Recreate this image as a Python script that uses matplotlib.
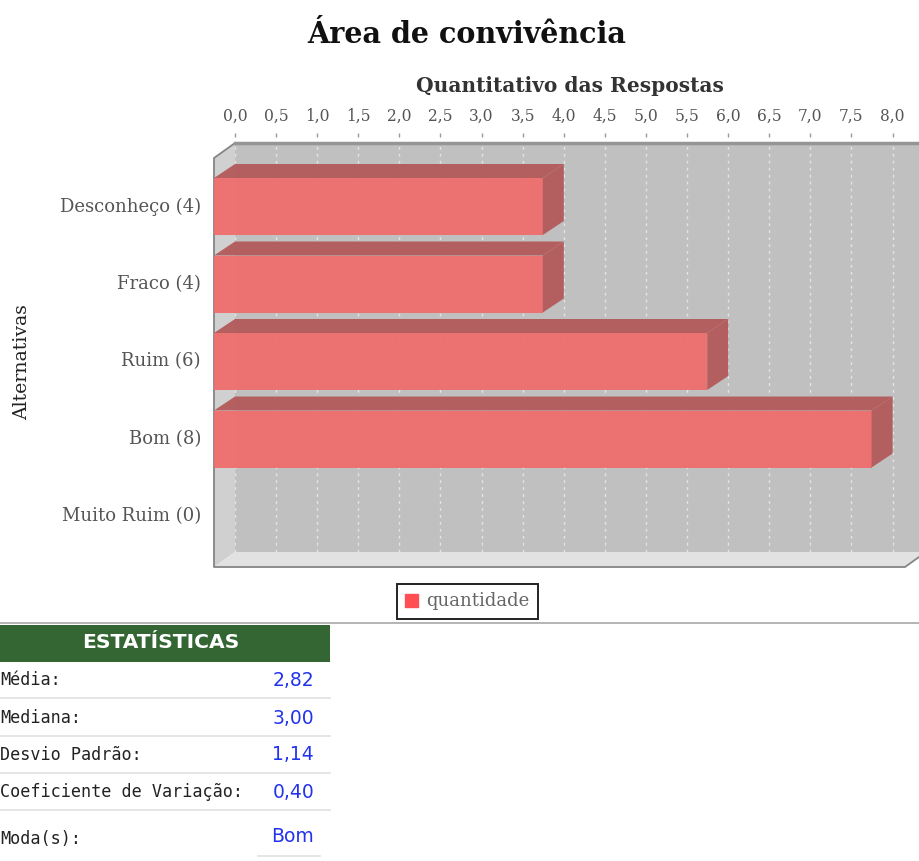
import matplotlib
matplotlib.use('Agg')
import matplotlib.pyplot as plt
from matplotlib.patches import Polygon, Patch, Rectangle
from matplotlib.transforms import ScaledTranslation

W, H = 919, 861

categories = ['Desconheço (4)', 'Fraco (4)', 'Ruim (6)', 'Bom (8)', 'Muito Ruim (0)']
quantidade = [4, 4, 6, 8, 0]
xticks = [0.0, 0.5, 1.0, 1.5, 2.0, 2.5, 3.0, 3.5, 4.0, 4.5, 5.0, 5.5, 6.0, 6.5, 7.0, 7.5, 8.0]
stat_names = ['Média:', 'Mediana:', 'Desvio Padrão:', 'Coeficiente de Variação:', 'Moda(s):']
stat_values = ['2,82', '3,00', '1,14', '0,40', 'Bom']

SERIF = 'DejaVu Serif'
PXX = 82.2  # pixels per unit on x
PXY = 77.5  # pixels per category
DX, DY = 21, 14  # 3d depth, pixels


def axes_px(x0, y0, x1, y1, **kw):
    # axes from pixel box, y counted from the top of the image
    return fig.add_axes([x0 / W, 1 - y1 / H, (x1 - x0) / W, (y1 - y0) / H], **kw)


fig = plt.figure(figsize=(W / 100, H / 100), dpi=100)

# page layer in pixels: plot walls, table
bg = axes_px(0, 0, W, H, zorder=0)
bg.set_xlim(0, W)
bg.set_ylim(H, 0)
bg.axis('off')
bg.add_patch(Polygon([(214, 158), (235, 143), (235, 552), (214, 567)], fc='#d0d0d0', ec='none'))
bg.add_patch(Polygon([(214, 567), (905, 567), (926, 552), (235, 552)], fc='#e2e2e2', ec='none'))
bg.plot([235, 214, 214, 905, 926], [143, 158, 567, 567, 552], color='#858585', lw=1.3)

bg.plot([0, W], [623, 623], color='#a8a8a8', lw=1.2)
bg.add_patch(Rectangle((0, 625), 330, 37, fc='#336633', ec='none'))
bg.text(161, 643, 'ESTATÍSTICAS', color='white', fontsize=14.6, fontweight='bold',
        family='DejaVu Sans', ha='center', va='center')
row_y = [680, 718, 755, 792, 839]
for name, val, y in zip(stat_names, stat_values, row_y):
    bg.text(0, y, name, color='#222222', fontsize=12.1, family='DejaVu Sans Mono', va='center')
    bg.text(314, y - (2 if val == 'Bom' else 0), val, color='#2233ee', fontsize=13.5,
            family='DejaVu Sans', va='center', ha='right')
for y in [698, 736, 773, 810]:
    bg.plot([0, 330], [y, y], color='#e0e0e0', lw=1.2)
bg.plot([258, 320], [856, 856], color='#e0e0e0', lw=1.2)

bg.text(467, 34.5, 'Área de convivência', color='#111111', fontsize=20.6, fontweight='bold',
        family=SERIF, ha='center', va='center')
bg.text(22, 362, 'Alternativas', color='#222222', fontsize=13.6, family=SERIF,
        rotation=90, ha='center', va='center')

# back wall, carries the value axis
back = axes_px(235, 143, 926, 552, zorder=1, facecolor='#c0c0c0')
back.set_xlim(0, (926 - 235) / PXX)
back.set_ylim(0, 1)
back.spines['top'].set_position(('outward', 4.3))  # has to come before the tick setup
back.xaxis.tick_top()
back.xaxis.set_label_position('top')
back.set_xticks(xticks)
back.set_xticklabels([('%.1f' % v).replace('.', ',') for v in xticks],
                     family=SERIF, fontsize=11.2, color='#555555')
back.tick_params(axis='x', length=2.9, width=1, color='#999999', pad=6)
back.set_yticks([])
back.set_xlabel('Quantitativo das Respostas', family=SERIF, fontsize=14.5, fontweight='bold',
                color='#333333')
back.xaxis.set_label_coords((570 - 235) / (926 - 235), 1 + (143 - 92) / (552 - 143), transform=back.transAxes)
back.grid(axis='x', color='#e4e4e4', lw=1, linestyle=(0, (2, 3)))
back.set_axisbelow(True)
for s in back.spines.values():
    s.set_visible(False)
back.axhline(1, color='#959595', lw=2.5, clip_on=False)

# front plane with the bars and the category axis
y0 = 206.5
front = axes_px(214, 158, W, 567, zorder=2, facecolor='none')
front.set_xlim(0, (W - 214) / PXX)
front.set_ylim((567 - y0) / PXY, (158 - y0) / PXY)
front.set_xticks([])
front.set_yticks(range(len(categories)))
front.set_yticklabels(categories, family=SERIF, fontsize=13, color='#555555')
front.tick_params(axis='y', length=0, pad=9.4)
shift_up = ScaledTranslation(0, 2 / 100, fig.dpi_scale_trans)
for lab in front.get_yticklabels():
    lab.set_transform(lab.get_transform() + shift_up)
for s in front.spines.values():
    s.set_visible(False)

bar_h = 57 / PXY
dx, dy = DX / PXX, DY / PXY
front.barh(range(len(categories)), quantidade, height=bar_h, color='#f06c6c', alpha=0.93, linewidth=0)
for i, v in enumerate(quantidade):
    if v == 0:
        continue
    top, bot = i - bar_h / 2, i + bar_h / 2
    front.add_patch(Polygon([(0, top), (v, top), (v + dx, top - dy), (dx, top - dy)],
                            fc='#b35c5c', ec='none', alpha=0.97))
    front.add_patch(Polygon([(v, top), (v + dx, top - dy), (v + dx, bot - dy), (v, bot)],
                            fc='#b35c5c', ec='none', alpha=0.97))

leg = fig.legend(handles=[Patch(color='#ff4f55', label='quantidade')],
                 loc='center', bbox_to_anchor=(467.5 / W, 1 - 601.5 / H), frameon=True,
                 fancybox=False, edgecolor='#222222', framealpha=1,
                 prop={'family': SERIF, 'size': 13}, labelcolor='#666666',
                 handlelength=0.72, handleheight=0.72, handletextpad=0.45,
                 borderpad=0.45, borderaxespad=0)
leg.get_frame().set_linewidth(1.4)
leg.set_zorder(5)

fig.savefig('out.png', dpi=100)
